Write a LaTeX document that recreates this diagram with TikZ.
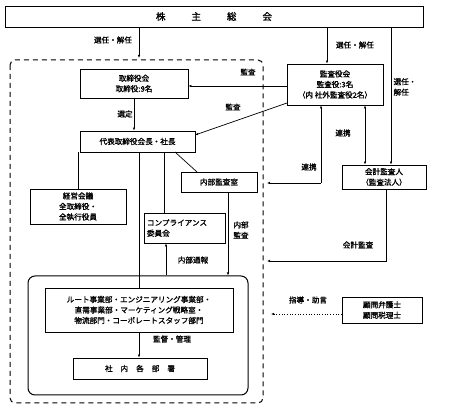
\documentclass[tikz,border=0pt]{standalone}
\usepackage{fontspec}
\setmainfont{Noto Sans CJK JP}[FakeBold=1.2]
\usetikzlibrary{arrows.meta}
\begin{document}
\begin{tikzpicture}[x=1pt,y=-1pt,
  font=\fontsize{7.6}{10.5}\selectfont,
  box/.style={draw,line width=0.7pt,inner sep=0pt,align=center},
  lbl/.style={inner sep=0pt,align=center},
  arr/.style={-{Latex[length=3pt,width=2.4pt]},line width=0.7pt},
  ln/.style={line width=0.7pt}]
\useasboundingbox (0,0) rectangle (451,420);
\fill[white] (0,0) rectangle (451,420);
% boxes
\node[box,minimum width=418pt,minimum height=21pt,font=\fontsize{9.5}{10}\selectfont] (agm) at (214,16.5) {株\hspace{26pt}主\hspace{26pt}総\hspace{26pt}会};
\node[box,minimum width=108pt,minimum height=29pt] (bod) at (134,83.5) {取締役会\\取締役:9名};
\node[box,minimum width=96pt,minimum height=41pt] (kan) at (335,84.5) {監査役会\\監査役:3名\\（内 社外監査役2名）};
\node[box,minimum width=115pt,minimum height=21pt] (ceo) at (137.5,141.5) {代表取締役会長・社長};
\node[box,minimum width=96pt,minimum height=35pt] (kei) at (78,206.5) {経営会議\\全取締役・\\全執行役員};
\node[box,minimum width=76pt,minimum height=20pt] (nai) at (219,182) {内部監査室};
\node[box,minimum width=81pt,minimum height=30pt,align=left,text width=75pt] (comp) at (184.5,228) {コンプライアンス\\委員会};
\node[box,minimum width=84pt,minimum height=24pt] (acc) at (384,177) {会計監査人\\（監査法人）};
\node[draw,line width=1pt,rounded corners=7pt,minimum width=220pt,minimum height=119pt,inner sep=0pt] (rb) at (138,335.5) {};
\node[box,minimum width=188pt,minimum height=44pt] (div) at (139,310) {ルート事業部・エンジニアリング事業部・\\直需事業部・マーケティング戦略室・\\物流部門・コーポレートスタッフ部門};
\node[box,minimum width=134pt,minimum height=21pt] (dep) at (140,368.5) {社\hspace{8pt}内\hspace{8pt}各\hspace{8pt}部\hspace{8pt}署};
\node[box,minimum width=80pt,minimum height=26pt] (adv) at (382,310) {顧問弁護士\\顧問税理士};
% dashed region
\draw[line width=1pt,dash pattern=on 5pt off 4pt,rounded corners=5pt] (10,60) rectangle (263,403);
% coordinates
\coordinate (c1) at (139,58);
\coordinate (c2) at (267,183);
\coordinate (c3) at (267,261);
\coordinate (c4) at (271,314);
% connectors
\draw[arr] (agm.south -| c1) -- (c1);
\draw[arr] (agm.south -| 327,0) -- (kan.north -| 327,0);
\draw[arr] (agm.south -| 391,0) -- (acc.north -| 391,0);
\draw[arr] (kan.west |- 0,86) -- (bod.east |- 0,86);
\draw[arr] (287,103) -- (195,135);
\draw[arr] (bod.south) -- (ceo.north -| bod.south);
\draw[ln] (ceo.south -| kei.north) -- (kei.north);
\draw[ln] (ceo.south -| 139,0) -- (div.north -| 139,0);
\draw[ln] (ceo.south -| 164,0) -- (comp.north -| 164,0);
\draw[ln] (175,152) -- (197,172);
\draw[arr] (rb.north -| 166,0) -- (comp.south -| 166,0);
\draw[arr] (nai.south -| 228,0) -- (rb.north -| 228,0);
\draw[arr] (321,183) -- (kan.south -| 321,0);
\draw[arr] (321,183) -- (c2);
\draw[arr,{Latex[length=3pt,width=2.4pt]}-{Latex[length=3pt,width=2.4pt]}] (kan.south -| 365,0) -- (acc.north -| 365,0);
\draw[arr] (acc.south -| 386,0) |- (c3);
\draw[arr,dotted,line width=0.9pt] (adv.west |- c4) -- (c4);
\draw[arr] (div.south -| 139,0) -- (dep.north -| 139,0);
% labels
\node[lbl] (l1) at (113,40) {選任・解任};
\node[lbl] (l2) at (355,45) {選任・解任};
\node[lbl,align=left] (l3) at (405,87) {選任・\\解任};
\node[lbl] (l4) at (248,72) {監査};
\node[lbl] (l5) at (233,107) {監査};
\node[lbl] (l6) at (125,114) {選定};
\node[lbl] (l7) at (343,133) {連携};
\node[lbl] (l8) at (309,167) {連携};
\node[lbl] (l9) at (193,260) {内部通報};
\node[lbl,align=left] (l10) at (241,230) {内部\\監査};
\node[lbl] (l11) at (358,245) {会計監査};
\node[lbl] (l12) at (308,300) {指導・助言};
\node[lbl] (l13) at (172,339) {監督・管理};
\end{tikzpicture}
\end{document}
